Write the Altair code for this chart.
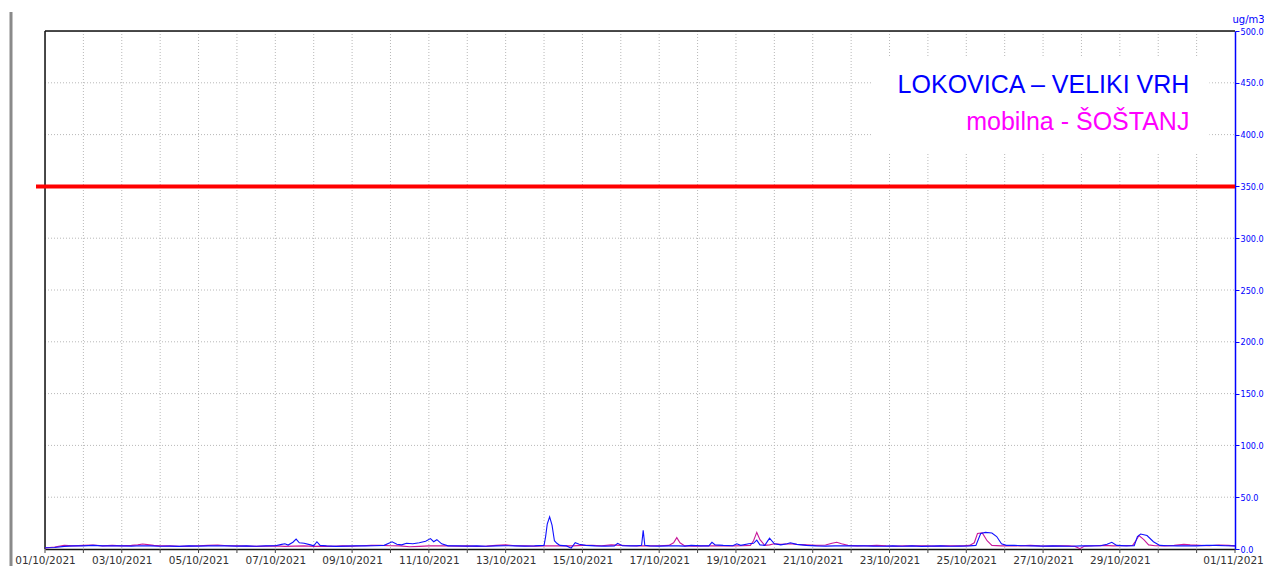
import altair as alt
import pandas as pd

# Hours since 01/10/2021 00:00 and concentrations (ug/m3)
blue_hours = [0, 6, 12, 18, 24, 30, 36, 42, 48, 54, 60, 66, 72, 78, 84, 90, 96, 102, 108, 114,
              120, 126, 132, 138, 144, 148, 150, 152, 155, 157, 159, 162, 166, 168, 170, 172, 176,
              182, 188, 194, 200, 206, 212, 217, 220, 223, 226, 230, 234, 238, 241, 243, 245, 248,
              252, 258, 264, 270, 276, 282, 288, 294, 300, 306, 312, 313, 314, 315.5, 317, 318.5,
              320, 322, 326, 329, 331.5, 334, 338, 344, 350, 356, 358, 361, 366, 370, 373, 374,
              375, 378, 384, 390, 396, 400, 404, 410, 415, 417, 419, 424, 430, 432.5, 435, 440,
              443, 445, 447, 450, 453, 456, 460, 464, 466, 470, 476, 482, 488, 494, 500, 506, 512,
              518, 524, 530, 536, 542, 548, 554, 560, 566, 572, 578, 582, 585, 588, 592, 595, 598,
              601, 606, 612, 618, 624, 630, 636, 642, 648, 654, 660, 664, 667, 670, 676, 681, 683,
              685, 689, 693, 697, 702, 708, 714, 720, 726, 732, 738, 744]
blue_values = [1.2, 1.5, 2.5, 3.0, 3.0, 3.5, 3.0, 3.2, 3.0, 2.8, 3.2, 3.0, 2.6, 2.8, 2.5, 3.0, 2.8, 3.0, 3.2, 3.0,
               2.8, 3.0, 2.7, 3.0, 3.2, 4.5, 5.0, 3.8, 6.5, 9.5, 6.0, 5.5, 4.0, 3.0, 7.0, 3.5, 3.0,
               2.5, 2.8, 3.0, 3.0, 3.2, 3.5, 7.0, 4.5, 4.0, 5.5, 5.0, 6.0, 7.5, 10.0, 7.0, 9.0, 5.0,
               3.0, 3.0, 2.8, 3.0, 2.6, 3.0, 3.2, 3.0, 2.8, 3.0, 3.5, 12.0, 24.0, 31.0, 23.0, 8.0,
               5.5, 3.5, 3.0, 0.8, 6.0, 4.5, 3.5, 3.0, 2.8, 3.0, 5.5, 3.2, 3.0, 3.0, 3.5, 18.0,
               3.5, 3.0, 2.8, 3.0, 3.0, 2.8, 3.5, 3.0, 3.0, 6.5, 4.0, 3.5, 3.2, 5.0, 3.5, 5.0,
               5.5, 8.5, 4.0, 3.5, 10.5, 5.0, 4.0, 5.0, 6.0, 4.5, 3.5, 3.0, 2.8, 3.0, 3.0, 3.2, 3.0,
               2.8, 2.6, 3.0, 2.7, 3.0, 2.5, 2.8, 3.0, 2.6, 2.8, 3.0, 3.5, 15.0, 16.0, 15.5, 12.0, 5.0,
               3.5, 3.5, 3.2, 3.0, 2.8, 3.0, 2.8, 2.7, 3.0, 3.0, 3.2, 4.5, 6.5, 3.5, 3.0, 3.2, 12.0,
               14.5, 13.0, 7.0, 3.5, 3.2, 3.0, 3.2, 3.0, 3.5, 3.5, 3.2, 3.0]

mag_hours = [0, 6, 12, 18, 24, 30, 36, 42, 48, 54, 58, 61, 64, 68, 72, 78, 84, 90, 96, 102, 108,
             114, 120, 126, 132, 138, 144, 150, 156, 162, 168, 174, 180, 186, 192, 198, 204, 210,
             216, 222, 228, 234, 240, 246, 252, 258, 264, 270, 276, 282, 288, 294, 300, 306, 312,
             318, 324, 330, 336, 342, 348, 354, 360, 366, 372, 378, 384, 390, 393, 395, 397, 400,
             406, 412, 418, 424, 430, 436, 441, 443, 445, 447, 450, 453, 456, 460, 466, 470, 476,
             482, 488, 492, 495, 498, 502, 508, 514, 520, 526, 532, 538, 544, 550, 556, 562, 568,
             574, 578, 581, 583, 586, 589, 592, 598, 604, 610, 616, 622, 628, 634, 640, 644, 647,
             650, 656, 662, 668, 674, 680, 682, 684, 687, 690, 694, 700, 706, 712, 716, 722, 728,
             734, 740, 744]
mag_values = [1.0, 2.0, 3.5, 3.0, 3.5, 3.8, 3.0, 3.5, 3.0, 3.5, 4.0, 4.8, 4.2, 3.5, 3.0, 3.0, 2.5, 2.8, 3.2, 3.5, 3.8,
              3.2, 3.0, 2.8, 2.5, 2.8, 3.0, 2.5, 2.8, 3.0, 2.5, 2.8, 2.5, 3.0, 2.8, 3.2, 3.5, 3.5,
              3.2, 3.0, 2.2, 2.5, 3.0, 3.2, 3.0, 2.8, 3.0, 2.5, 2.8, 3.5, 4.0, 3.2, 3.0, 2.8, 3.0,
              3.0, 3.2, 3.0, 3.5, 3.5, 3.2, 4.0, 3.5, 3.2, 3.0, 3.0, 3.2, 3.5, 6.0, 11.0, 6.0, 3.0,
              2.8, 3.0, 3.2, 3.0, 3.0, 3.2, 3.5, 8.0, 16.0, 9.0, 3.5, 4.0, 5.0, 4.5, 5.0, 4.5, 4.0,
              3.5, 3.8, 5.5, 6.5, 5.0, 3.5, 3.0, 3.2, 3.5, 3.0, 2.8, 3.0, 3.2, 3.0, 2.8, 3.0, 3.2,
              3.0, 3.5, 6.0, 15.0, 15.5, 8.0, 3.5, 3.0, 3.2, 3.0, 3.5, 3.0, 2.8, 3.0, 3.0, 2.5, 0.3,
              2.8, 3.2, 3.5, 3.0, 3.2, 3.5, 8.0, 13.0, 9.0, 4.0, 3.2, 3.0, 3.5, 4.5, 4.0, 3.5, 3.2,
              3.8, 3.5, 3.0]

station_names = ["LOKOVICA \u2013 VELIKI VRH", "mobilna - \u0160O\u0160TANJ"]
station_colors = ["#0000ff", "#ff00ff"]
line_colors = ["#1010ff", "#c8189a"]
limit_value = [350]
day_ticks = [d * 24 for d in range(32)]
inner_days = [d * 24 for d in range(1, 31)]
label_days = [d * 24 for d in range(0, 30, 2)] + [744]
y_ticks = [0, 50, 100, 150, 200, 250, 300, 350, 400, 450]

blue_df = pd.DataFrame({"h": blue_hours, "v": blue_values})
mag_df = pd.DataFrame({"h": mag_hours, "v": mag_values})
limit_df = pd.DataFrame({"v": limit_value})
days_df = pd.DataFrame({"h": day_ticks})
grid_df = pd.DataFrame({"h": inner_days})
# annotation box (data coordinates) and texts
box_df = pd.DataFrame({"h": [517], "h2": [728], "v": [475], "v2": [383]})
text_df = pd.DataFrame({"h": [715.5, 715.5], "v": [440, 404], "t": station_names, "c": station_colors})

W, H = 1190, 518

x_scale = alt.Scale(domain=[0, 744], nice=False, zero=False)
y_scale = alt.Scale(domain=[0, 500], nice=False)

label_expr = "timeFormat(datetime(2021, 9, 1 + datum.value/24), '%d/%m/%Y')"

x_axis = alt.Axis(values=label_days, labelExpr=label_expr, title=None, grid=False, ticks=False,
                  domainColor="#111111", domainWidth=1.5,
                  labelColor="#333333", labelFont="DejaVu Sans", labelFontSize=10.5,
                  labelPadding=6, labelFlush=False, labelOverlap=False,
                  labelOffset={"condition": {"test": "datum.value == 744", "value": -2}, "value": 0})
y_axis = alt.Axis(orient="right", values=y_ticks + [500], format=".1f", title="ug/m3", grid=False,
                  domainColor="#0000ff", domainWidth=1.5, tickColor="#0000ff", tickSize=4,
                  labelColor="#0000ff", labelFont="DejaVu Sans Condensed", labelFontSize=9,
                  labelPadding=1, titleColor="#0000ff", titleFont="DejaVu Sans",
                  titleFontSize=10, titleFontWeight="normal", titleAngle=0,
                  titleAlign="left", titleBaseline="bottom", titleX=-3, titleY=-7)

base = alt.Chart(limit_df).mark_rule(opacity=0).encode(
    x=alt.X("v:Q", scale=x_scale, axis=x_axis),
    y=alt.Y("v:Q", scale=y_scale, axis=y_axis),
)

hgrid = alt.Chart(pd.DataFrame({"v": y_ticks[1:]})).mark_rule(
    color="#b8b8b8", strokeWidth=1, strokeDash=[1, 2]).encode(
    y=alt.Y("v:Q", scale=y_scale), x=alt.value(0), x2=alt.value(W),
)
vgrid = alt.Chart(grid_df).mark_rule(color="#b8b8b8", strokeWidth=1, strokeDash=[1, 2]).encode(
    x=alt.X("h:Q", scale=x_scale), y=alt.value(0), y2=alt.value(H),
)
xticks = alt.Chart(days_df).mark_rule(color="#444444", strokeWidth=1).encode(
    x=alt.X("h:Q", scale=x_scale), y=alt.value(H), y2=alt.value(H + 4),
)

frame_left = alt.Chart(limit_df).mark_rule(color="#111111", strokeWidth=1.5).encode(
    x=alt.value(0), y=alt.value(0), y2=alt.value(H),
)
frame_top = alt.Chart(limit_df).mark_rule(color="#111111", strokeWidth=1.5).encode(
    y=alt.value(0), x=alt.value(0), x2=alt.value(W),
)

box = alt.Chart(box_df).mark_rect(color="white").encode(
    x=alt.X("h:Q", scale=x_scale), x2="h2:Q",
    y=alt.Y("v:Q", scale=y_scale), y2="v2:Q",
)

texts = alt.Chart(text_df).mark_text(align="right", baseline="alphabetic",
                                     font="Liberation Sans, Arial",
                                     fontSize=25).encode(
    x=alt.X("h:Q", scale=x_scale), y=alt.Y("v:Q", scale=y_scale),
    text="t:N", color=alt.Color("c:N", scale=None),
)

mag_line = alt.Chart(mag_df).mark_line(color=line_colors[1], strokeWidth=1.1).encode(
    x=alt.X("h:Q", scale=x_scale), y=alt.Y("v:Q", scale=y_scale),
)
blue_line = alt.Chart(blue_df).mark_line(color=line_colors[0], strokeWidth=1.1).encode(
    x=alt.X("h:Q", scale=x_scale), y=alt.Y("v:Q", scale=y_scale),
)

limit = alt.Chart(limit_df).mark_rule(color="#ff0000", strokeWidth=4).encode(
    y=alt.Y("v:Q", scale=y_scale), x=alt.value(-9), x2=alt.value(W),
)

side_bar = alt.Chart(limit_df).mark_rule(color="#8a8a8a", strokeWidth=3).encode(
    x=alt.value(-34), y=alt.value(-19), y2=alt.value(H + 20),
)

chart = alt.layer(base, hgrid, vgrid, xticks, box, texts, frame_left, frame_top,
                  mag_line, blue_line, limit, side_bar).properties(
    width=W, height=H,
    autosize=alt.AutoSizeParams(type="none"),
    padding={"left": 37, "top": 23, "right": 29, "bottom": 18},
).configure_view(stroke=None).configure(background="white")

chart.save("out.html", embed_options={"renderer": "svg", "actions": False})
